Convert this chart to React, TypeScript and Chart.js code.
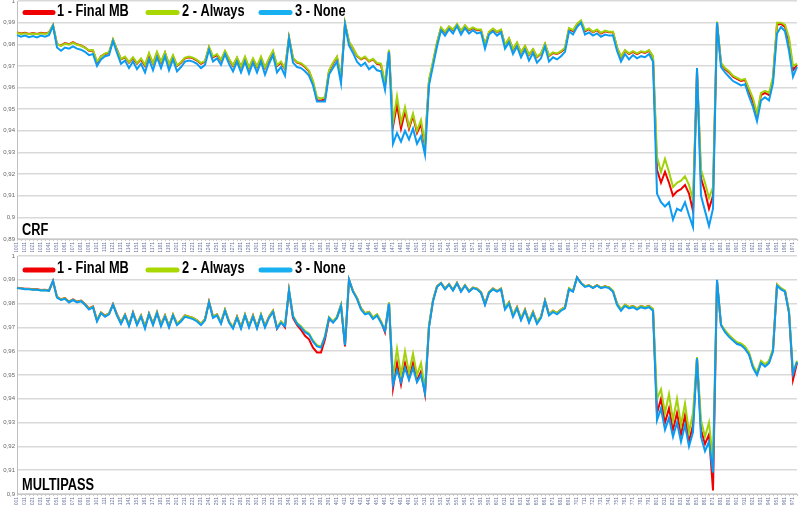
import React, { useEffect, useRef } from "react";
import { Chart, registerables } from "chart.js";
Chart.register(...registerables);

// Category labels (frame numbers)
const frames: string[] = Array.from({ length: 196 }, (_, i) => String(1001 + 5 * i));

const seriesNames = ["1 - Final MB", "2 - Always", "3 - None"];
const seriesColors = ["#F00000", "#A2D20A", "#0C9BF2"];
const legendColors = ["#F00000", "#A8D800", "#18B0F0"];

// Values in thousandths (0.985 -> 985)
const crfFinal = [
  985.5, 985, 985.3, 984.8, 985.2, 984.8, 985.3, 985, 985.5, 988.8,
  980, 979.5, 980.5, 980, 981, 980, 979.5, 978.5, 977, 977,
  971.5, 974.5, 975.5, 976, 982, 977.5, 973, 974, 971.5, 973.5,
  971, 973, 970, 975, 971, 976, 971.5, 976, 970.5, 974.5,
  970, 971.5, 973.5, 974, 973.5, 972.5, 971, 972, 978.5, 974,
  975, 972.5, 976.5, 973, 970, 973.5, 969.5, 973.5, 969, 973,
  969.5, 973.5, 969, 973, 976.5, 970, 971.5, 968.5, 983, 973.5,
  971.5, 971, 969.5, 967.5, 962.5, 954, 954, 954.5, 967.5, 971,
  974, 964, 989.5, 981, 978, 974.5, 973, 974, 972, 973,
  971, 970.5, 961, 977, 942, 952, 941, 949, 941, 947,
  939, 943, 933, 963, 971.5, 980.5, 987.5, 985.5, 988, 986.5,
  989, 986, 988.5, 986.5, 987.5, 986.5, 986.5, 979.5, 985.5, 987,
  985.5, 986.5, 979.5, 982.5, 977.5, 980.5, 976, 979, 975, 977.5,
  974, 975.5, 980, 974.5, 976, 975.5, 976.5, 978, 987, 986,
  989, 990.5, 986, 987, 985.5, 986.5, 985, 986, 985.5, 985.5,
  978.5, 974, 977, 975.5, 976.5, 975.5, 976.5, 976, 977, 974,
  922, 916, 921, 916, 910, 912, 913, 915, 911, 903,
  968, 918, 912, 904, 910, 990, 971, 968.5, 967, 965,
  964, 963, 963.5, 958.5, 953.5, 947, 956.5, 957.5, 956.5, 964,
  989, 989.5, 988, 981.5, 968, 970.5,
];
const crfAlways = [
  985.3, 984.8, 985.1, 984.6, 985, 984.6, 985.1, 984.8, 985.3, 989,
  980, 979.3, 980.3, 979.8, 980.8, 979.8, 979.3, 978.3, 977.2, 977.3,
  972, 974.3, 975.8, 976.3, 982.3, 977.3, 973.2, 974.3, 971.8, 974,
  971.3, 973.5, 970.5, 976, 971.3, 976.5, 972, 976.3, 970.8, 975,
  970.3, 971.8, 973.8, 974.3, 973.8, 972.8, 971.3, 972.3, 978.8, 974.3,
  975.5, 972.8, 977, 973.3, 970.3, 974, 969.8, 974.3, 969.3, 973.5,
  969.8, 974.3, 969.3, 973.5, 977, 970.3, 972, 968.8, 983.3, 973.8,
  971.8, 971.3, 969.8, 967.8, 963, 955.5, 955, 955.5, 968, 971.5,
  974.3, 964.5, 989.8, 981.3, 978.3, 974.8, 973.3, 974.3, 972.3, 973.3,
  971.3, 971, 962, 977.5, 944, 956, 944, 951, 942, 948,
  940, 945, 934, 963.5, 972, 981, 987.8, 985.8, 988.3, 986.8,
  989.3, 986.3, 988.8, 986.8, 987.8, 986.8, 986.8, 979.8, 985.8, 987.3,
  985.8, 986.8, 979.8, 982.8, 977.8, 980.8, 976.3, 979.3, 975.3, 977.8,
  974.3, 975.8, 980.3, 974.8, 976.3, 975.8, 976.8, 978.5, 987.5, 986.5,
  989.5, 991, 986.5, 987.3, 985.8, 986.8, 985.3, 986.3, 985.8, 985.8,
  978.8, 974.3, 977.3, 975.8, 976.8, 975.8, 976.8, 976.3, 977.3, 974.5,
  928, 921, 927, 921, 914, 916, 917, 919, 915, 908,
  967, 922, 916, 909, 914, 990.5, 971.5, 969, 967.5, 965.5,
  964.5, 963.5, 964, 959.5, 955, 948, 957.5, 958.5, 957.5, 965,
  990, 990, 989, 983, 970, 971,
];
const crfNone = [
  984.2, 983.5, 984, 983.3, 983.8, 983.2, 984, 983.5, 984.2, 988.5,
  978.5, 977, 978.5, 978, 979, 978, 977.5, 976.5, 975, 975.5,
  970, 973, 974.5, 975, 981.5, 976, 971, 972.5, 969, 972,
  968.5, 971, 967, 973, 968, 974, 969, 974.5, 968, 973,
  967.5, 969.5, 972, 972.5, 972, 971, 969, 970.5, 977.5, 972,
  973.5, 970.5, 975.5, 971, 967.5, 972, 967, 972, 966.5, 971.5,
  967, 972, 966, 971, 975, 967, 969.5, 965.5, 982.5, 971.5,
  969.5, 969, 967.5, 965.5, 961, 953.5, 953.5, 953.5, 966, 969,
  972, 962, 989, 979.5, 976, 972, 970, 971.5, 968.5, 970,
  968, 967.5, 959, 976.5, 934, 939, 935, 940, 936, 941,
  934, 937.5, 929, 961, 970, 979, 986.5, 984, 987, 985,
  988.5, 984.5, 987.5, 985, 986.5, 985, 985.5, 978, 984.5, 986,
  984, 985.5, 978, 981, 975.5, 979, 974, 977.5, 972.5, 976,
  971.5, 973.5, 979, 972, 974, 973, 974.5, 976.5, 986, 984.5,
  988, 990, 984.5, 985.5, 984, 985, 983.5, 984.5, 984, 984,
  977, 972, 975.5, 973, 975, 973.5, 974.5, 974, 975.5, 972,
  911, 907, 905, 907, 899, 904, 903, 907, 901, 895.5,
  969, 910, 903, 896, 904, 990, 969.5, 967, 965, 963,
  962, 961, 961.5, 956, 951, 944.5, 954, 955.5, 954, 962,
  985, 988, 986, 977, 965, 969.5,
];

const mpFinal = [
  986.7, 986.5, 986.2, 986.2, 986, 986, 985.7, 985.8, 985.5, 989.5,
  982.8, 981.8, 982.3, 980.8, 981.8, 980.8, 981.3, 979.8, 978, 978.8,
  973, 976.3, 975, 975.8, 979.8, 975.5, 972, 975.3, 971, 976.3,
  971.5, 975, 970.2, 975.8, 971.5, 976.3, 971.2, 975, 970.5, 975.3,
  971.5, 973, 975, 974.5, 974, 973, 971.5, 973.5, 980.8, 974.5,
  975.5, 972, 977.3, 972.5, 970, 974.5, 970, 975.3, 970.5, 975,
  970, 975.3, 970.5, 974.5, 977, 969.5, 972.3, 970, 985.5, 974,
  971, 969, 966.5, 965, 961.5, 959.5, 959.5, 965, 973.5, 972.3,
  974.3, 979.3, 962, 990, 985.3, 982.3, 978, 976, 976.5, 974,
  975.3, 972.5, 968, 980.3, 944.5, 955, 946, 955, 948.5, 955,
  947.5, 951.5, 942, 970.5, 981.3, 987.3, 988.7, 986.3, 988.2, 985.8,
  988.7, 985.3, 987.7, 985.3, 986.7, 986.3, 984.8, 979.8, 984.8, 986.3,
  985.3, 986.3, 978, 980.5, 975, 978.5, 973.5, 977.5, 972.5, 976.5,
  972, 974.5, 981.3, 975.5, 977, 976, 977.5, 978.5, 986.3, 985.3,
  991, 988.7, 987.3, 987.7, 986.7, 987.7, 986.7, 987.3, 986.8, 985.3,
  980, 977.5, 979.5, 978.5, 979, 978, 979, 978.5, 979, 977.5,
  934, 940, 930, 936, 927, 934, 925, 933, 922, 929,
  957, 927, 921, 925, 901.5, 989.5, 971, 968.5, 966.5, 965,
  963.5, 963, 961.5, 959, 953.5, 950.5, 955.5, 954, 955.5, 960.5,
  988, 986.3, 985.3, 976.5, 948, 955,
];
const mpAlways = [
  986.6, 986.4, 986.1, 986.1, 985.9, 985.9, 985.6, 985.7, 985.4, 989.3,
  982.7, 981.7, 982.2, 980.7, 981.7, 980.7, 981.2, 979.7, 977.8, 978.7,
  973, 976.2, 974.8, 975.8, 979.7, 975.3, 972, 975.3, 971, 976.3,
  971.5, 975, 970.3, 975.8, 971.5, 976.5, 971, 975, 970.5, 975.5,
  971.5, 973, 975, 974.5, 974, 973, 971.5, 973.5, 980.7, 974.5,
  975.5, 972, 977.5, 972.5, 970, 974.5, 970, 975.5, 970.5, 975,
  970, 975.5, 970.5, 974.5, 977, 970, 972.5, 971, 985.7, 975,
  972, 970.5, 968.5, 967.5, 964.5, 962.5, 962, 966.5, 974.3, 972.5,
  974.5, 979.5, 963, 990, 985.3, 982.5, 978, 976, 976.5, 974.2,
  975.5, 972.5, 969, 980.5, 949, 961, 950, 960, 951, 959,
  950, 955, 944, 971, 981.5, 987.3, 988.7, 986.3, 988.2, 985.8,
  988.7, 985.3, 987.7, 985.3, 986.7, 986.3, 984.8, 980, 984.8, 986.3,
  985.3, 986.3, 978.3, 980.5, 975.3, 978.5, 973.8, 977.5, 972.8, 976.5,
  972.3, 974.5, 981.3, 975.5, 977, 976, 977.5, 978.5, 986.5, 985.3,
  991, 988.7, 987.3, 987.7, 986.7, 987.7, 986.7, 987.3, 986.8, 985.5,
  980, 977.8, 979.5, 978.5, 979, 978, 979, 978.5, 979, 977.8,
  940, 944, 934, 942, 931, 940, 929, 938, 926, 934,
  957.5, 931, 924, 930, 914, 989.5, 971.3, 968.7, 966.8, 965.2,
  963.8, 963.3, 962, 959.5, 954, 951, 956, 954.5, 956, 961,
  988, 986.5, 985.5, 977, 951, 956,
];
const mpNone = [
  986.5, 986.3, 986, 986, 985.8, 985.8, 985.5, 985.6, 985.3, 989.5,
  982.5, 981.5, 982, 980.5, 981.5, 980.5, 981, 979.5, 977.5, 978.5,
  972.5, 976, 974.5, 975.5, 979.5, 975, 971.5, 975, 970.5, 976,
  971, 974.5, 969.5, 975.5, 971, 976, 970.5, 974.5, 970, 975,
  971, 972.5, 974.5, 974, 973.5, 972.5, 971, 973, 980.5, 974,
  975, 971.5, 977, 972, 969.5, 974, 969.5, 975, 970, 974.5,
  969.5, 975, 970, 974, 976.5, 969.5, 972, 970.5, 985.5, 974.5,
  971.5, 970, 968, 967, 964, 962, 961.5, 966, 974, 972,
  974, 979, 962.5, 990, 985, 982, 977.5, 975.5, 976, 973.5,
  975, 972, 968.5, 980, 946, 952, 947, 953, 948, 953,
  947, 950, 942.5, 970, 981, 987, 988.5, 986, 988, 985.5,
  988.5, 985, 987.5, 985, 986.5, 986, 984.5, 979.5, 984.5, 986,
  985, 986, 977.5, 980, 974.5, 978, 973, 977, 972, 976,
  971.5, 974, 981, 975, 976.5, 975.5, 977, 978, 986, 985,
  991, 988.5, 987, 987.5, 986.5, 987.5, 986.5, 987, 986.5, 985,
  979.5, 977, 979, 978, 978.5, 977.5, 978.5, 978, 978.5, 977,
  931, 936, 927, 932, 924, 930, 922, 929, 920, 926,
  957, 924, 918, 922, 909, 990, 971, 968, 966, 964.5,
  963, 962.5, 961, 958.5, 953, 950, 955, 953.5, 955, 960,
  987.5, 986, 985, 976, 950.5, 955.5,
];

const FONT = "'Liberation Sans', Arial, sans-serif";

const fmtY = (v: number) => {
  const r = Math.round(v * 100) / 100;
  return r === 1 ? "1" : String(r).replace(".", ",");
};

function overlayPlugin(title: string, legendY: number, titleY: number) {
  return {
    id: "overlay",
    afterDraw(chart: any) {
      const ctx = chart.ctx;
      const pos = [
        [25, 53, 57],
        [148, 177, 182],
        [261, 290, 295],
      ];
      ctx.save();
      chart.data.datasets.forEach((ds: any, k: number) => {
        ctx.strokeStyle = legendColors[k];
        ctx.lineWidth = 5;
        ctx.lineCap = "round";
        ctx.beginPath();
        ctx.moveTo(pos[k][0], legendY + 1);
        ctx.lineTo(pos[k][1], legendY + 1);
        ctx.stroke();
        ctx.save();
        ctx.translate(pos[k][2], legendY);
        ctx.scale(0.8, 1);
        ctx.font = `bold 16px ${FONT}`;
        ctx.fillStyle = "#000";
        ctx.textBaseline = "middle";
        ctx.fillText(ds.label, 0, 0);
        ctx.restore();
      });
      ctx.save();
      ctx.translate(22, titleY);
      ctx.scale(0.8, 1);
      ctx.font = `bold 16px ${FONT}`;
      ctx.fillStyle = "#000";
      ctx.textBaseline = "alphabetic";
      ctx.fillText(title, 0, 0);
      ctx.restore();
      ctx.restore();
    },
  };
}

function makeConfig(
  series: number[][],
  yMin: number,
  title: string,
  legendY: number,
  titleY: number,
  xHeight: number,
  padTop: number
): any {
  return {
    type: "line",
    data: {
      labels: frames,
      datasets: series.map((s, k) => ({
        label: seriesNames[k],
        data: s.map((v) => v / 1000),
        borderColor: seriesColors[k],
        backgroundColor: seriesColors[k],
        borderWidth: 2,
        pointRadius: 0,
        tension: 0,
        fill: false,
        order: 3 - k,
      })),
    },
    options: {
      responsive: false,
      animation: false,
      events: [],
      layout: { padding: { top: padTop, right: 3, left: 0, bottom: 0 } },
      plugins: { legend: { display: false }, tooltip: { enabled: false } },
      scales: {
        x: {
          type: "category",
          offset: false,
          grid: { display: true, drawOnChartArea: false, drawTicks: true, tickLength: 2, color: "#c8c8c8" },
          border: { display: true, color: "#c8c8c8" },
          ticks: {
            autoSkip: false,
            maxRotation: 90,
            minRotation: 90,
            padding: 1,
            color: "#6a78a0",
            font: { size: 5, family: FONT },
            callback: (_v: any, i: number) => (i % 2 === 0 ? frames[i] : ""),
          },
          afterFit: (s: any) => {
            s.height = xHeight;
            s.paddingLeft = 0;
            s.paddingRight = 0;
          },
        },
        y: {
          min: yMin,
          max: 1,
          ticks: {
            stepSize: 0.01,
            padding: 2,
            color: "#666",
            font: { size: 6, family: FONT },
            callback: (v: any) => fmtY(Number(v)),
          },
          grid: { color: "#d9d9d9", lineWidth: 1.5, drawTicks: false },
          border: { display: true, color: "#bfbfbf" },
          afterFit: (s: any) => {
            s.width = 17;
            s.paddingTop = 0;
            s.paddingBottom = 0;
          },
        },
      },
    },
    plugins: [overlayPlugin(title, legendY, titleY)],
  };
}

function Panel(props: { config: any; height: number }) {
  const ref = useRef<HTMLCanvasElement | null>(null);
  useEffect(() => {
    if (!ref.current) return;
    const chart = new Chart(ref.current, props.config);
    return () => chart.destroy();
  }, []);
  return <canvas ref={ref} width={800} height={props.height} style={{ display: "block", width: 800, height: props.height }} />;
}

export default function App() {
  const top = makeConfig([crfFinal, crfAlways, crfNone], 0.89, "CRF", 11.5, 235, 13, 1);
  const bottom = makeConfig([mpFinal, mpAlways, mpNone], 0.9, "MULTIPASS", 17, 238, 11, 4);
  return (
    <div style={{ position: "fixed", left: 0, top: 0, width: 800, height: 505, background: "#fff", overflow: "hidden" }}>
      <Panel config={top} height={252} />
      <Panel config={bottom} height={253} />
    </div>
  );
}
